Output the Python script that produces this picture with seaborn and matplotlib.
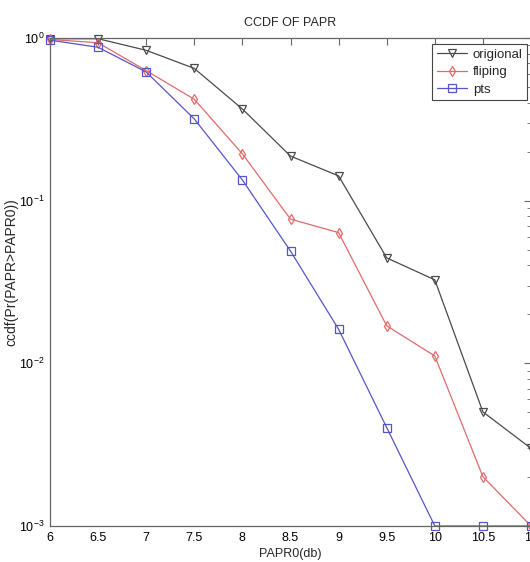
import numpy as np
import pandas as pd
import matplotlib
matplotlib.use('Agg')
import matplotlib.pyplot as plt
import seaborn as sns

papr0 = [6, 6.5, 7, 7.5, 8, 8.5, 9, 9.5, 10, 10.5, 11]
origional = [0.99, 0.99, 0.84, 0.65, 0.366, 0.188, 0.142, 0.0445, 0.0326, 0.00503, 0.0030]
fliping = [0.98, 0.935, 0.63, 0.42, 0.194, 0.077, 0.0636, 0.017, 0.0111, 0.00201, 0.001]
pts = [0.97, 0.877, 0.618, 0.318, 0.134, 0.049, 0.0162, 0.00403, 0.001, 0.001, 0.001]

names = ['origional', 'fliping', 'pts']
colors = ['#4a4a4a', '#e06a6a', '#5555c8']
markers = ['v', 'd', 's']

sns.set_style('white')
plt.rcParams['font.family'] = ['Liberation Sans', 'DejaVu Sans']
plt.rcParams['mathtext.fontset'] = 'custom'
plt.rcParams['mathtext.rm'] = 'Liberation Sans'
plt.rcParams['mathtext.it'] = 'Liberation Sans'

df = pd.DataFrame({'papr0': papr0 * 3,
                   'ccdf': origional + fliping + pts,
                   'series': [n for n in names for _ in papr0]})

fig = plt.figure(figsize=(5.3, 5.62), dpi=100)
ax = fig.add_axes([50 / 530, 36 / 562, 481 / 530, 488 / 562])

for n, c, m in zip(names, colors, markers):
    sub = df[df['series'] == n]
    sns.lineplot(data=sub, x='papr0', y='ccdf', ax=ax, color=c, lw=0.9,
                 marker=m, markersize=5.5, markerfacecolor='none',
                 markeredgecolor=c, markeredgewidth=0.9, label=n, clip_on=False)

ax.set_yscale('log')
ax.set_xlim(6, 11)
ax.set_ylim(1e-3, 1)
ax.set_xticks([6, 6.5, 7, 7.5, 8, 8.5, 9, 9.5, 10, 10.5, 11])
ax.set_xticklabels(['6', '6.5', '7', '7.5', '8', '8.5', '9', '9.5', '10', '10.5', '11'])

for s in ax.spines.values():
    s.set_color('#666666')
    s.set_linewidth(0.9)
ax.tick_params(which='both', direction='in', top=True, right=True,
               colors='#666666', labelcolor='black', labelsize=9)
ax.tick_params(which='major', length=5, pad=4)
ax.tick_params(which='minor', length=3)
ax.tick_params(axis='x', which='minor', bottom=False, top=False)

ax.set_title('CCDF OF PAPR', fontsize=9, pad=9)
ax.set_xlabel('PAPR0(db)', fontsize=9, labelpad=3)
ax.set_ylabel('ccdf(Pr(PAPR>PAPR0))', fontsize=10)
ax.yaxis.set_label_coords(-0.066, 0.52)

leg = ax.legend(loc='upper right', bbox_to_anchor=(0.992, 0.988), borderaxespad=0,
                fancybox=False, framealpha=1, edgecolor='#444444', fontsize=9.5,
                handlelength=2.3, handletextpad=0.4, borderpad=0.35, labelspacing=0.4)
leg.get_frame().set_linewidth(0.8)

fig.savefig('out.png', dpi=100, facecolor='white')
